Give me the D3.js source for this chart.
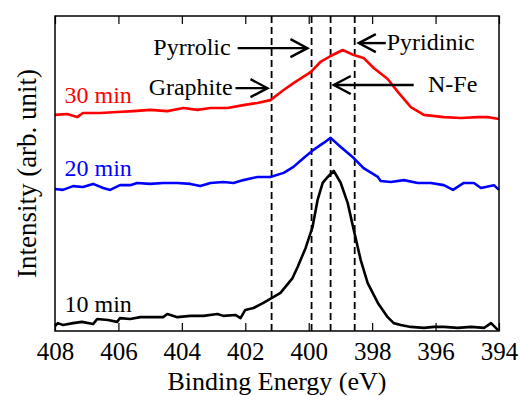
<!DOCTYPE html>
<html>
<head>
<meta charset="utf-8">
<script src="https://cdn.jsdelivr.net/npm/d3@7"></script>
<style>
  body { margin: 0; background: #fff; }
</style>
</head>
<body>
<svg id="chart" width="520" height="396"></svg>
<script>
// binding energy (eV) and intensity (arb. unit)
var e10 = [408.00, 407.91, 407.75, 407.43, 407.15, 406.80, 406.67, 406.33, 406.04, 405.95, 405.63, 405.31, 405.00, 404.59, 404.46, 404.14, 403.73, 403.32, 402.88, 402.69, 402.31, 402.15, 402.00, 401.74, 401.43, 401.21, 400.89, 400.51, 400.35, 400.10, 399.88, 399.72, 399.56, 399.40, 399.21, 398.99, 398.77, 398.58, 398.36, 398.14, 397.82, 397.51, 397.32, 397.10, 396.78, 396.37, 396.05, 395.74, 395.30, 394.88, 394.47, 394.25, 394.03];
var i10 = [1.6, 2.5, 1.9, 2.5, 2.9, 2.2, 3.8, 3.5, 2.9, 4.1, 3.8, 4.4, 4.4, 4.4, 5.4, 4.4, 4.8, 4.8, 5.4, 4.8, 5.1, 4.1, 6.7, 7.3, 8.9, 10.2, 12.1, 16.8, 20.3, 26.3, 33.0, 41.6, 47.0, 48.9, 50.8, 47.0, 40.6, 32.1, 22.5, 15.2, 8.9, 4.4, 2.5, 1.9, 1.3, 1.0, 1.3, 1.3, 1.0, 1.3, 1.0, 2.5, 0.3];

var e20 = [408.00, 407.75, 407.43, 407.12, 406.80, 406.48, 406.26, 405.95, 405.63, 405.41, 405.00, 404.59, 404.14, 403.73, 403.42, 403.10, 402.69, 402.37, 402.06, 401.62, 401.21, 400.79, 400.48, 400.16, 399.85, 399.53, 399.31, 398.99, 398.58, 398.27, 397.82, 397.73, 397.41, 397.00, 396.56, 396.15, 395.74, 395.45, 395.11, 394.79, 394.57, 394.16, 394.00];
var i20 = [45.1, 44.8, 46.0, 45.7, 46.7, 45.4, 44.8, 46.3, 46.3, 47.0, 46.7, 47.0, 47.0, 46.7, 46.0, 47.0, 47.3, 47.0, 47.9, 48.9, 48.9, 50.2, 52.1, 54.9, 57.5, 59.7, 61.3, 58.4, 54.9, 51.7, 48.9, 47.6, 47.3, 47.9, 47.0, 47.0, 46.3, 44.8, 47.0, 47.0, 45.4, 46.3, 44.8];

var e30 = [408.00, 407.62, 407.30, 407.12, 406.58, 406.04, 405.53, 405.00, 404.46, 403.95, 403.51, 403.10, 402.56, 402.06, 401.62, 401.21, 400.79, 400.48, 399.94, 399.63, 399.31, 398.93, 398.58, 398.27, 397.95, 397.51, 397.19, 396.78, 396.37, 395.74, 395.20, 394.66, 394.35, 394.00];
var i30 = [68.6, 68.9, 67.9, 69.2, 69.2, 69.5, 69.8, 70.2, 69.8, 70.8, 70.2, 70.8, 70.8, 71.7, 72.4, 73.3, 76.5, 78.7, 82.2, 85.4, 87.3, 89.2, 87.6, 86.7, 83.5, 80.0, 75.9, 71.1, 68.6, 67.9, 67.6, 67.9, 67.9, 67.3];

var seriesNames = ["10 min", "20 min", "30 min"];
var seriesColors = ["#000000", "#0000ff", "#ff0000"];
var seriesLabelE = [407.7, 407.7, 407.7];
var seriesLabelI = [6.0, 49.2, 72.4];

// dashed reference positions (eV)
var peakE = [401.17, 399.91, 399.31, 398.55];

// annotations: arrow tail / tip (eV), height, label anchor
var annNames = ["Pyrrolic", "Graphite", "Pyridinic", "N-Fe"];
var annTail = [402.24, 402.31, 397.57, 396.69];
var annTip = [400.04, 401.30, 398.42, 399.21];
var annI = [89.8, 77.1, 91.4, 78.1];
var annLabelE = [402.46, 402.40, 397.54, 396.24];

var xTicks = [408, 406, 404, 402, 400, 398, 396, 394];

var FONT = "'Liberation Serif'";

var svg = d3.select("#chart");
var mLeft = 55, mRight = 499, mTop = 16, mBottom = 331;

var x = d3.scaleLinear().domain([408, 394]).range([mLeft, mRight]);
var y = d3.scaleLinear().domain([0, 100]).range([mBottom, mTop]);

// dashed lines
svg.selectAll(".peak")
    .data(peakE)
    .enter()
    .append("line")
    .attr("x1", function(d) { return x(d); })
    .attr("x2", function(d) { return x(d); })
    .attr("y1", mTop)
    .attr("y2", mBottom)
    .attr("stroke", "#000")
    .attr("stroke-width", 1.8)
    .attr("stroke-dasharray", "7,4");

// spectra
var line = d3.line()
    .x(function(d) { return x(d[0]); })
    .y(function(d) { return y(d[1]); });

var series = [d3.zip(e10, i10), d3.zip(e20, i20), d3.zip(e30, i30)];

svg.selectAll(".spec")
    .data(series)
    .enter()
    .append("path")
    .attr("d", line)
    .attr("fill", "none")
    .attr("stroke", function(d, i) { return seriesColors[i]; })
    .attr("stroke-width", 2.6)
    .attr("stroke-linejoin", "round");

svg.selectAll(".slabel")
    .data(seriesNames)
    .enter()
    .append("text")
    .attr("x", function(d, i) { return x(seriesLabelE[i]); })
    .attr("y", function(d, i) { return y(seriesLabelI[i]); })
    .attr("fill", function(d, i) { return seriesColors[i]; })
    .style("font-family", FONT)
    .style("font-size", "24px")
    .text(function(d) { return d; });

// arrows
annNames.forEach(function(name, i) {
    var x0 = x(annTail[i]), x1 = x(annTip[i]), yy = y(annI[i]);
    var dir = x1 > x0 ? 1 : -1;
    var g = svg.append("g")
        .attr("stroke", "#000")
        .attr("stroke-width", 2.4)
        .attr("fill", "none");
    g.append("line")
        .attr("x1", x0).attr("x2", x1)
        .attr("y1", yy).attr("y2", yy);
    g.append("path")
        .attr("d", "M" + (x1 - dir * 17) + "," + (yy - 9) + "L" + x1 + "," + yy + "L" + (x1 - dir * 17) + "," + (yy + 9));
    svg.append("text")
        .attr("x", x(annLabelE[i]))
        .attr("y", yy + 7)
        .attr("text-anchor", dir > 0 ? "end" : "start")
        .style("font-family", FONT)
        .style("font-size", "24px")
        .text(name);
});

// frame
svg.append("rect")
    .attr("x", mLeft).attr("y", mTop)
    .attr("width", mRight - mLeft).attr("height", mBottom - mTop)
    .attr("fill", "none")
    .attr("stroke", "#000")
    .attr("stroke-width", 1.5);

// axes with inward ticks
var xAxis = svg.append("g")
    .attr("transform", "translate(0," + mBottom + ")")
    .call(d3.axisBottom(x).tickValues(xTicks).tickSize(-8).tickPadding(11).tickFormat(d3.format("d")));
xAxis.select(".domain").remove();
xAxis.selectAll("line").attr("stroke-width", 1.2);
xAxis.selectAll("text")
    .attr("fill", "#000")
    .style("font-family", FONT)
    .style("font-size", "25px");

var xTop = svg.append("g")
    .attr("transform", "translate(0," + mTop + ")")
    .call(d3.axisTop(x).tickValues(xTicks).tickSize(-8).tickFormat(""));
xTop.select(".domain").remove();
xTop.selectAll("line").attr("stroke-width", 1.2);

svg.append("text")
    .attr("x", (mLeft + mRight) / 2)
    .attr("y", 390)
    .attr("text-anchor", "middle")
    .style("font-family", FONT)
    .style("font-size", "26px")
    .text("Binding Energy (eV)");

svg.append("text")
    .attr("transform", "translate(36," + ((mTop + mBottom) / 2) + ") rotate(-90)")
    .attr("text-anchor", "middle")
    .style("font-family", FONT)
    .style("font-size", "27px")
    .text("Intensity (arb. unit)");
</script>
</body>
</html>
